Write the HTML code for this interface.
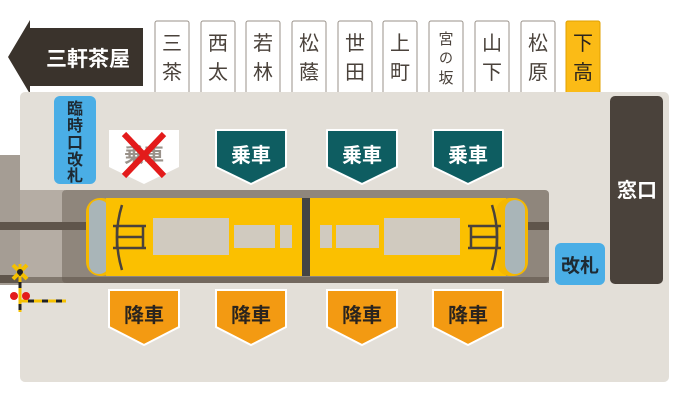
<!DOCTYPE html>
<html><head><meta charset="utf-8"><style>
body{margin:0;width:684px;height:400px;background:#fff;overflow:hidden}
svg{display:block}
text{font-family:"Liberation Sans","Noto Sans CJK JP",sans-serif;font-weight:bold}
.st text{font-weight:normal}
</style></head><body>
<svg width="684" height="400" viewBox="0 0 684 400" xmlns="http://www.w3.org/2000/svg">
<polygon points="8,57 30,20 30,28 143,28 143,86 30,86 30,94" fill="#3a332c"/>
<text x="88" y="66" font-size="21" fill="#fff" text-anchor="middle">三軒茶屋</text>
<g class="st" font-size="20" text-anchor="middle" fill="#4a423b">
<rect x="155" y="21" width="34" height="74" rx="2" fill="#fff" stroke="#9a928a"/><text x="172" y="50">三</text><text x="172" y="79">茶</text>
<rect x="201" y="21" width="34" height="74" rx="2" fill="#fff" stroke="#9a928a"/><text x="218" y="50">西</text><text x="218" y="79">太</text>
<rect x="246" y="21" width="34" height="74" rx="2" fill="#fff" stroke="#9a928a"/><text x="263" y="50">若</text><text x="263" y="79">林</text>
<rect x="292" y="21" width="34" height="74" rx="2" fill="#fff" stroke="#9a928a"/><text x="309" y="50">松</text><text x="309" y="79">蔭</text>
<rect x="338" y="21" width="34" height="74" rx="2" fill="#fff" stroke="#9a928a"/><text x="355" y="50">世</text><text x="355" y="79">田</text>
<rect x="383" y="21" width="34" height="74" rx="2" fill="#fff" stroke="#9a928a"/><text x="400" y="50">上</text><text x="400" y="79">町</text>
<rect x="429" y="21" width="34" height="74" rx="2" fill="#fff" stroke="#9a928a"/><text x="446" y="44" font-size="15">宮</text><text x="446" y="63" font-size="14">の</text><text x="446" y="83" font-size="15">坂</text>
<rect x="475" y="21" width="34" height="74" rx="2" fill="#fff" stroke="#9a928a"/><text x="492" y="50">山</text><text x="492" y="79">下</text>
<rect x="521" y="21" width="34" height="74" rx="2" fill="#fff" stroke="#9a928a"/><text x="538" y="50">松</text><text x="538" y="79">原</text>
<rect x="566" y="21" width="34" height="74" rx="2" fill="#fbbb16" stroke="#e0a000"/><text x="583" y="50" fill="#2a241e">下</text><text x="583" y="79" fill="#2a241e">高</text>
</g>
<rect x="0" y="155" width="22" height="130" fill="#a59d94"/>
<rect x="20" y="92" width="649" height="290" rx="5" fill="#e3dfd8"/>
<rect x="20" y="190" width="45" height="93" fill="#b5ada4"/>
<rect x="62" y="190" width="487" height="93" rx="4" fill="#8f867c"/>
<rect x="0" y="222" width="549" height="8" fill="#5f554b"/>
<rect x="0" y="275" width="20" height="8" fill="#5f554b"/>
<rect x="20" y="277" width="529" height="6" fill="#5f554b" opacity="0.6"/>
<rect x="86" y="198" width="30" height="78" rx="14" fill="#f5b800"/>
<rect x="89" y="200" width="20" height="74" rx="10" fill="#a9b5b8"/>
<rect x="106" y="198" width="196" height="78" fill="#fbc000"/>
<rect x="302" y="198" width="8" height="78" fill="#444"/>
<rect x="310" y="198" width="196" height="78" fill="#fbc000"/>
<rect x="496" y="198" width="32" height="78" rx="14" fill="#f5b800"/>
<rect x="505" y="200" width="20" height="74" rx="10" fill="#a9b5b8"/>
<g fill="#d0cabf">
<rect x="153" y="218" width="76" height="37"/><rect x="234" y="225" width="41" height="23"/><rect x="280" y="225" width="12" height="23"/>
<rect x="320" y="225" width="12" height="23"/><rect x="336" y="225" width="43" height="23"/><rect x="384" y="218" width="76" height="37"/>
</g>
<g stroke="#4a423b" stroke-width="2.5" fill="none">
<path d="M122,205 Q112,237 122,270"/><path d="M113,226 H146 M113,248 H146 M117,226 V248 M143,226 V248 M117,237 H143"/>
<path d="M492,205 Q502,237 492,270"/><path d="M468,226 H501 M468,248 H501 M471,226 V248 M497,226 V248 M471,237 H497"/>
</g>
<rect x="54" y="96" width="42" height="88" rx="6" fill="#4aaee6"/>
<g font-size="16" fill="#1e2a33" text-anchor="middle"><text x="75" y="114">臨</text><text x="75" y="131">時</text><text x="75" y="148">口</text><text x="75" y="165">改</text><text x="75" y="181">札</text></g>
<rect x="610" y="96" width="53" height="188" rx="5" fill="#4a423b"/>
<text x="637" y="197" font-size="20" fill="#fff" text-anchor="middle">窓口</text>
<rect x="555" y="243" width="50" height="42" rx="6" fill="#4aaee6"/>
<text x="580" y="272" font-size="19" fill="#1e2a33" text-anchor="middle">改札</text>
<polygon points="109,130 179,130 179,167 144,184 109,167" fill="#fff"/>
<text x="144" y="162" font-size="20" fill="#9a928a" text-anchor="middle">乗車</text>
<path d="M124,134 L164,176 M164,134 L124,176" stroke="#e31b1b" stroke-width="6"/>
<g font-size="20" fill="#fff" text-anchor="middle" stroke-linejoin="round">
<polygon points="216,130 286,130 286,167 251,184 216,167" fill="#0e5d61" stroke="#fff" stroke-width="2"/><text x="251" y="162">乗車</text>
<polygon points="327,130 397,130 397,167 362,184 327,167" fill="#0e5d61" stroke="#fff" stroke-width="2"/><text x="362" y="162">乗車</text>
<polygon points="433,130 503,130 503,167 468,184 433,167" fill="#0e5d61" stroke="#fff" stroke-width="2"/><text x="468" y="162">乗車</text>
</g>
<g font-size="20" fill="#2a241e" text-anchor="middle">
<polygon points="109,290 179,290 179,327 144,345 109,327" fill="#f39a12" stroke="#fff" stroke-width="2"/><text x="144" y="322">降車</text>
<polygon points="216,290 286,290 286,327 251,345 216,327" fill="#f39a12" stroke="#fff" stroke-width="2"/><text x="251" y="322">降車</text>
<polygon points="327,290 397,290 397,327 362,345 327,327" fill="#f39a12" stroke="#fff" stroke-width="2"/><text x="362" y="322">降車</text>
<polygon points="433,290 503,290 503,327 468,345 433,327" fill="#f39a12" stroke="#fff" stroke-width="2"/><text x="468" y="322">降車</text>
</g>
<path d="M20,264 V312 M20,301 H66" stroke="#f5c000" stroke-width="3"/>
<path d="M20,270 V276 M20,282 V288 M20,304 V310 M28,301 H34 M42,301 H48 M56,301 H62" stroke="#222" stroke-width="3"/>
<path d="M13,265 L27,279 M27,265 L13,279" stroke="#f5c000" stroke-width="4"/>
<circle cx="20" cy="272" r="3" fill="#222"/>
<circle cx="14" cy="296" r="4" fill="#e31b1b"/><circle cx="26" cy="296" r="4" fill="#e31b1b"/>
</svg>
</body></html>
